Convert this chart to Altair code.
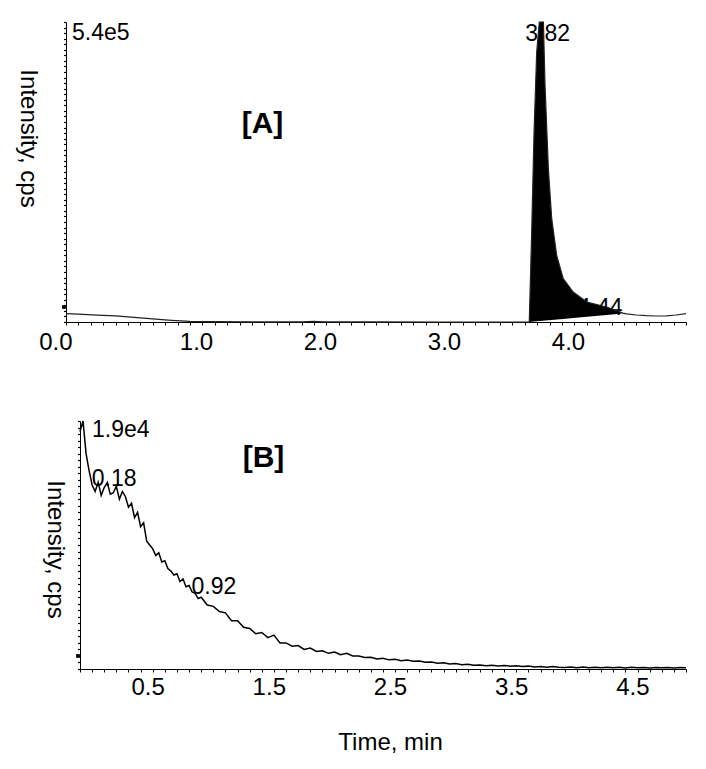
import altair as alt
import pandas as pd

FONT = "Liberation Sans"

# ---------------- Panel [A] ----------------
a_time = [0.00, 0.10, 0.25, 0.40, 0.55, 0.70, 0.85, 1.00, 1.20, 1.50, 1.90, 2.00, 2.08,
          2.50, 3.00, 3.50, 3.736, 3.755, 3.774, 3.796, 3.817, 3.85, 3.863, 3.89, 3.917,
          3.957, 4.01, 4.09, 4.20, 4.36, 4.47, 4.49, 4.52, 4.60, 4.68, 4.76, 4.84, 4.92, 5.00]
a_intensity = [15000, 14000, 12500, 11000, 8500, 5500, 3000, 1200, 600, 300, 200, 1200, 300,
               100, 0, 0, 0, 156000, 336000, 486000, 540000, 540000, 426000, 276000, 186000,
               120000, 78000, 54000, 36000, 27000, 18000, 16000, 14500, 12600, 11500, 10800,
               11000, 12600, 15000]
# integrated peak: times and the (sloping) integration baseline under them
a_fill_time = [3.736, 3.755, 3.774, 3.796, 3.817, 3.85, 3.863, 3.89, 3.917, 3.957, 4.01,
               4.09, 4.20, 4.36, 4.47, 4.49]
a_fill_base = [0, 400, 800, 1200, 1700, 2300, 2600, 3100, 3700, 4500, 5600, 7200, 9500,
               12800, 15000, 16000]
a_marker_i = [27000]
a_ann_text = ["5.4e5", "3.82", "4.44", "[A]"]
a_ann_time = [0.0, 3.82, 4.44, 1.585]
a_ann_int = [540000, 540000, 12600, 357300]
a_x_major = [0.0, 1.0, 2.0, 3.0, 4.0]
a_x_ticks = [round(i / 10, 1) for i in range(51)]
a_y_ticks = [i * 10000 for i in range(55)]

# ---------------- Panel [B] ----------------
b_time = [0.000, 0.025, 0.050, 0.075, 0.100, 0.125, 0.150, 0.175, 0.200, 0.225, 0.250,
          0.275, 0.300, 0.325, 0.350, 0.375, 0.400, 0.425, 0.450, 0.475, 0.500, 0.525,
          0.550, 0.575, 0.600, 0.625, 0.650, 0.675, 0.700, 0.725, 0.750, 0.775, 0.800,
          0.825, 0.850, 0.875, 0.900, 0.925, 0.950, 0.975,
          1.00, 1.05, 1.10, 1.15, 1.20, 1.25, 1.30, 1.35, 1.40, 1.45, 1.50, 1.55, 1.60,
          1.65, 1.70, 1.75, 1.80, 1.85, 1.90, 1.95, 2.00, 2.05, 2.10, 2.15, 2.20, 2.25,
          2.30, 2.35, 2.40, 2.45, 2.50, 2.55, 2.60, 2.65, 2.70, 2.75, 2.80, 2.85, 2.90,
          2.95, 3.00, 3.05, 3.10, 3.15, 3.20, 3.25, 3.30, 3.35, 3.40, 3.45, 3.50, 3.55,
          3.60, 3.65, 3.70, 3.75, 3.80, 3.85, 3.90, 3.95, 4.00, 4.05, 4.10, 4.15, 4.20,
          4.25, 4.30, 4.35, 4.40, 4.45, 4.50, 4.55, 4.60, 4.65, 4.70, 4.75, 4.80, 4.85,
          4.90, 4.95, 5.00]
b_intensity = [18200, 19000, 16500, 15200, 14100, 13600, 14300, 13300, 13900, 14300, 13400,
               13500, 14000, 13000, 13600, 13200, 12400, 12700, 11600, 12000, 10900, 11200,
               9800, 9500, 9200, 8700, 8900, 8200, 8300, 7700, 7500, 7200, 7300,
               6700, 6900, 6300, 6400, 5900, 5800, 5400,
               5500, 4900, 4800, 4400, 4300, 3700, 3700, 3200, 3100, 2700, 2800, 2400, 2600,
               2000, 2000, 1750, 1800, 1500, 1600, 1350, 1400, 1200, 1300, 1100, 1200, 1000,
               1000, 880, 900, 760, 820, 700, 740, 640, 680, 600, 620, 520, 540,
               450, 480, 380, 420, 330, 360, 290, 310, 250, 290, 230, 270, 220,
               250, 190, 220, 160, 190, 130, 200, 140, 120, 160, 100, 150, 100,
               140, 90, 130, 90, 130, 80, 130, 90, 120, 80, 120, 90, 120,
               80, 120, 100]
b_marker_i = [1000]
b_ann_text = ["1.9e4", "0.18", "0.92", "[B]"]
b_ann_time = [0.0, 0.18, 0.92, 1.514]
b_ann_int = [19000, 14020, 5750, 16130]
b_x_major = [0.5, 1.5, 2.5, 3.5, 4.5]
b_x_ticks = [round(i / 10, 1) for i in range(51)]
b_y_ticks = [i * 500 for i in range(39)]

# ---------------- helpers ----------------
def x_axis(ticks, major, offset, padding, title=None, **kw):
    test = f"indexof({major}, datum.value) >= 0"
    return alt.Axis(
        values=ticks,
        labelExpr=f"{test} ? format(datum.value, '.1f') : ''",
        tickSize=3,
        labelAlign=alt.condition("datum.value == 0", alt.value("right"), alt.value("center")),
        labelOffset=offset, labelPadding=padding, labelFlush=False, labelOverlap=False,
        labelFont=FONT, labelFontSize=24, labelColor="black",
        domainColor="black", tickColor="black", domainWidth=1, tickWidth=1,
        grid=False, title=title, titleFont=FONT, titleFontSize=24,
        titleFontWeight="normal", titleColor="black", **kw)


def y_axis(ticks, title_x, title_y):
    return alt.Axis(
        values=ticks, labels=False, tickSize=2.5,
        domainColor="black", tickColor="black", domainWidth=1, tickWidth=1.2, grid=False,
        title="Intensity, cps", titleFont=FONT, titleFontSize=24,
        titleFontWeight="normal", titleColor="black", titleAngle=90,
        titleAlign="center", titleBaseline="middle", titleX=title_x, titleY=title_y)


def spacer(w):
    return alt.Chart(pd.DataFrame({"v": [0]})).mark_point(
        size=0, opacity=0, strokeWidth=0).encode(
        x=alt.value(0), y=alt.value(0)).properties(width=w, height=1)


# ---------------- Panel A chart ----------------
a_xs = alt.Scale(domain=[0, 5.0], nice=False, zero=False)
a_ys = alt.Scale(domain=[0, 540000], nice=False, zero=False)
AX = alt.X("t:Q", scale=a_xs, axis=x_axis(a_x_ticks, a_x_major, 6, 5))
AY = alt.Y("i:Q", scale=a_ys, axis=y_axis(a_y_ticks, -39, 116))

a_df = pd.DataFrame({"t": a_time, "i": a_intensity})
a_fill = pd.DataFrame({"t": a_fill_time, "base": a_fill_base}).merge(a_df, on="t")
a_ann = pd.DataFrame({"t": a_ann_time, "i": a_ann_int, "label": a_ann_text})
a_mk = pd.DataFrame({"t": [0.0], "i": a_marker_i})


def a_text(i, **mark):
    return alt.Chart(a_ann.iloc[[i]]).mark_text(font=FONT, color="black", **mark).encode(
        x=AX, y=AY, text="label:N")


a_texts = [
    a_text(0, align="left", baseline="top", dx=6, dy=0, fontSize=23),
    a_text(1, align="center", baseline="top", dx=8, dy=1, fontSize=23),
    a_text(2, align="right", baseline="alphabetic", dx=6, fontSize=23),
    a_text(3, align="center", baseline="middle", fontSize=30, fontWeight="bold"),
]
a_area = alt.Chart(a_fill).mark_area(color="black", opacity=1).encode(x=AX, y=AY, y2="base:Q")
a_line = alt.Chart(a_df).mark_line(color="#222222", strokeWidth=1.2).encode(x=AX, y=AY)
a_marker = alt.Chart(a_mk).mark_square(size=14, color="black", xOffset=-2, opacity=1).encode(
    x=AX, y=AY)

top = alt.layer(*a_texts, a_area, a_line, a_marker).properties(width=620, height=300)

# ---------------- Panel B chart ----------------
b_xs = alt.Scale(domain=[0, 5.0], nice=False, zero=False)
b_ys = alt.Scale(domain=[0, 19000], nice=False, zero=False)
BX = alt.X("t:Q", scale=b_xs,
           axis=x_axis(b_x_ticks, b_x_major, 7, 3, title="Time, min", titlePadding=31,
                       titleX=310))
BY = alt.Y("i:Q", scale=b_ys, axis=y_axis(b_y_ticks, -26, 128))

b_df = pd.DataFrame({"t": b_time, "i": b_intensity})
b_ann = pd.DataFrame({"t": b_ann_time, "i": b_ann_int, "label": b_ann_text})
b_mk = pd.DataFrame({"t": [0.0], "i": b_marker_i})


def b_text(i, **mark):
    return alt.Chart(b_ann.iloc[[i]]).mark_text(font=FONT, color="black", **mark).encode(
        x=BX, y=BY, text="label:N")


b_texts = [
    b_text(0, align="left", baseline="top", dx=12, dy=-2, fontSize=23),
    b_text(1, align="left", baseline="alphabetic", dx=-10, fontSize=23),
    b_text(2, align="left", baseline="alphabetic", dx=0, fontSize=23),
    b_text(3, align="center", baseline="middle", fontSize=30, fontWeight="bold"),
]
b_line = alt.Chart(b_df).mark_line(color="black", strokeWidth=1.5).encode(x=BX, y=BY)
b_marker = alt.Chart(b_mk).mark_square(size=14, color="black", xOffset=-2, opacity=1).encode(
    x=BX, y=BY)

bottom = alt.layer(*b_texts, b_line, b_marker).properties(width=606, height=248)

chart = alt.concat(
    alt.hconcat(spacer(1), top, spacing=0),
    alt.hconcat(spacer(28), bottom, spacing=0),
    columns=1, align="none", spacing=64,
).properties(
    padding={"left": 6, "top": 11, "right": 0, "bottom": 0}
).configure(background="white").configure_view(stroke=None)

chart.save("out.html", embed_options={"renderer": "svg", "actions": False})
